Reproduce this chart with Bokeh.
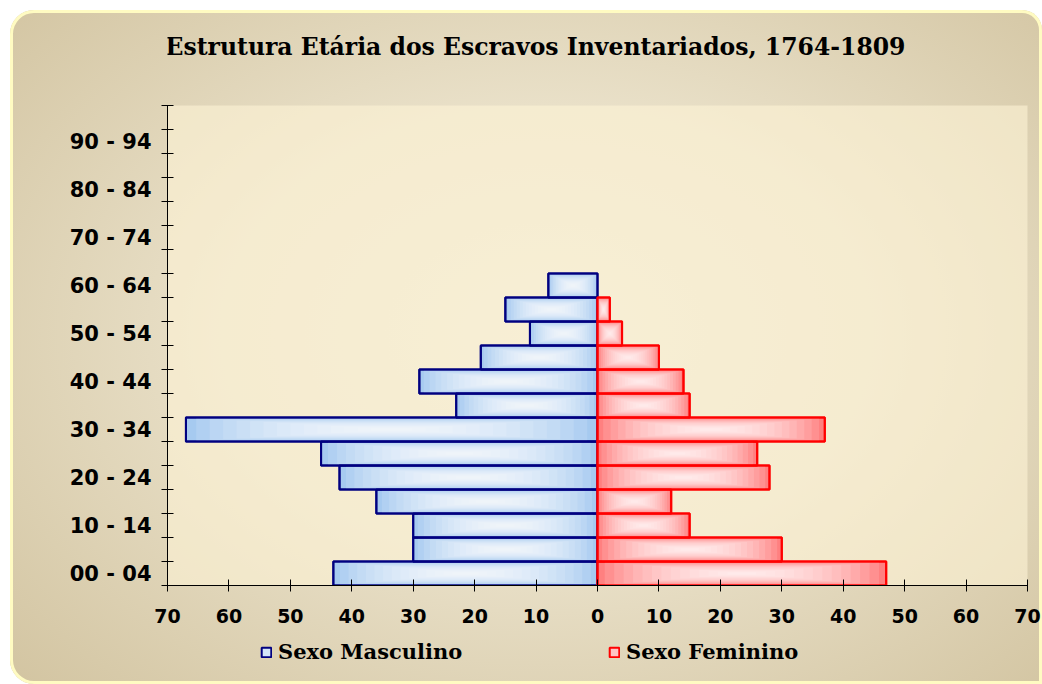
from bokeh.plotting import figure
from bokeh.layouts import column
from bokeh.models import (FixedTicker, Legend, LegendItem, ColumnDataSource, Range1d,
                          Label)
from bokeh.embed import file_html
from bokeh.resources import INLINE

# ---- data ----
age_groups = ["00 - 04", "05 - 09", "10 - 14", "15 - 19", "20 - 24", "25 - 29",
              "30 - 34", "35 - 39", "40 - 44", "45 - 49", "50 - 54", "55 - 59",
              "60 - 64", "65 - 69", "70 - 74", "75 - 79", "80 - 84", "85 - 89",
              "90 - 94", "95 - 99"]
male = [43, 30, 30, 36, 42, 45, 67, 23, 29, 19, 11, 15, 8, 0, 0, 0, 0, 0, 0, 0]
female = [47, 30, 15, 12, 28, 26, 37, 15, 14, 10, 4, 2, 0, 0, 0, 0, 0, 0, 0, 0]
x_ticks = [-70, -60, -50, -40, -30, -20, -10, 0, 10, 20, 30, 40, 50, 60, 70]
title_text = "Estrutura Etária dos Escravos Inventariados, 1764-1809"
legend_labels = ["Sexo Masculino", "Sexo Feminino"]

SANS = "DejaVu Sans"
SERIF = "DejaVu Serif"
MALE_FILL, MALE_EDGE = "#a6caf0", "#000080"
FEM_FILL, FEM_EDGE = "#ff8080", "#ff0000"
W = 1032


def bare(fig):
    fig.border_fill_alpha = 0
    fig.background_fill_alpha = 0
    fig.outline_line_color = None
    fig.grid.visible = False
    return fig


def bar_source(values, sign):
    ys, left, right, center, length = [], [], [], [], []
    for i, v in enumerate(values):
        if v == 0:
            continue
        ys.append(i + 0.5)
        left.append(min(0, sign * v))
        right.append(max(0, sign * v))
        center.append(sign * v / 2.0)
        length.append(v)
    return dict(y=ys, left=left, right=right, center=center, length=length)


# ---- title strip ----
p0 = bare(figure(width=W, height=60, output_backend="svg", toolbar_location=None,
                 x_axis_location=None, y_axis_location=None, min_border=0))
p0.add_layout(Label(x=368, y=24, x_units="screen", y_units="screen", text=title_text,
                    text_align="center", text_baseline="alphabetic",
                    text_font=SERIF, text_font_style="bold",
                    text_font_size="23.5px", text_color="black"))

# ---- main chart ----
p = figure(width=W, height=566, output_backend="svg", toolbar_location=None,
           x_range=Range1d(-70, 70), y_range=Range1d(0, len(age_groups)),
           min_border_left=157, min_border_right=15, min_border_top=35,
           min_border_bottom=51)
p.border_fill_alpha = 0
p.background_fill_color = "#fdf3d6"
p.background_fill_alpha = 0.6
p.outline_line_color = None
p.grid.visible = False


def draw_series(values, sign, base_color, edge_color):
    d = bar_source(values, sign)
    src = ColumnDataSource(d)
    p.hbar(y="y", left="left", right="right", height=1.0, source=src,
           fill_color=base_color, line_color=edge_color, line_width=2)
    # concentric white layers to mimic a "from centre" gradient
    n = 14
    for k in range(n):
        f = 0.95 - k * (0.85 / (n - 1))
        lsrc = ColumnDataSource(dict(
            y=d["y"],
            left=[c - f * l / 2.0 for c, l in zip(d["center"], d["length"])],
            right=[c + f * l / 2.0 for c, l in zip(d["center"], d["length"])],
        ))
        p.hbar(y="y", left="left", right="right", height=f, source=lsrc,
               fill_color="white", fill_alpha=0.13, line_color=None)
    p.hbar(y="y", left="left", right="right", height=1.0, source=src,
           fill_color=None, line_color=edge_color, line_width=2)


draw_series(male, -1, MALE_FILL, MALE_EDGE)
draw_series(female, 1, FEM_FILL, FEM_EDGE)

# x axis
xa = p.xaxis[0]
xa.ticker = FixedTicker(ticks=x_ticks, minor_ticks=[])
xa.major_label_overrides = {t: str(abs(t)) for t in x_ticks}
xa.major_tick_in = 6
xa.major_tick_out = 6
xa.minor_tick_line_color = None
xa.axis_line_color = "black"
xa.major_tick_line_color = "black"
xa.major_label_text_font = SANS
xa.major_label_text_font_style = "bold"
xa.major_label_text_font_size = "19px"
xa.major_label_text_color = "black"
xa.major_label_standoff = 17

# y axis
ya = p.yaxis[0]
label_pos = [i + 0.5 for i in range(0, len(age_groups), 2)]
ya.ticker = FixedTicker(ticks=label_pos,
                        minor_ticks=list(range(0, len(age_groups) + 1)))
ya.major_label_overrides = {i + 0.5: age_groups[i] for i in range(0, len(age_groups), 2)}
ya.major_tick_line_color = None
ya.major_tick_in = 0
ya.major_tick_out = 0
ya.minor_tick_in = 6
ya.minor_tick_out = 6
ya.minor_tick_line_color = "black"
ya.axis_line_color = "black"
ya.major_label_text_font = SANS
ya.major_label_text_font_style = "bold"
ya.major_label_text_font_size = "21px"
ya.major_label_text_color = "black"
ya.major_label_standoff = 10

# ---- legend strip (hidden series, used only for the legend keys) ----
p2 = bare(figure(width=W, height=48, output_backend="svg", toolbar_location=None,
                 x_axis_location=None, y_axis_location=None, min_border=0,
                 x_range=Range1d(-70, 70), y_range=Range1d(0, len(age_groups))))
rm = p2.hbar(y="y", left="left", right="right", height=1,
             source=ColumnDataSource(bar_source(male, -1)),
             fill_color="#d4e5f8", line_color=MALE_EDGE, line_width=2)
rf = p2.hbar(y="y", left="left", right="right", height=1,
             source=ColumnDataSource(bar_source(female, 1)),
             fill_color="#ffc4c4", line_color=FEM_EDGE, line_width=2)
rm.visible = False
rf.visible = False
for r, lab, xloc in [(rm, legend_labels[0], 93), (rf, legend_labels[1], 441)]:
    leg = Legend(items=[LegendItem(label=lab, renderers=[r])], location=(xloc, 20),
                 orientation="horizontal", glyph_width=12, glyph_height=12,
                 label_text_font=SERIF, label_text_font_style="bold",
                 label_text_font_size="21px", label_text_color="black",
                 label_standoff=6, background_fill_alpha=0, border_line_color=None,
                 padding=0, margin=0)
    p2.add_layout(leg, "center")

layout = column(p0, p, p2, spacing=0)
layout.styles = {
    "margin-left": "10px",
    "margin-top": "10px",
    "border-radius": "24px 20px 0 24px",
    "background": "radial-gradient(ellipse 70% 75% at 52% 48%, #efe8d4 0%, #e9e0c8 45%, #d3c5a2 100%)",
    "box-shadow": "inset 0 0 0 3px #fffbc2",
}

open("out.html", "w").write(file_html(layout, INLINE))
